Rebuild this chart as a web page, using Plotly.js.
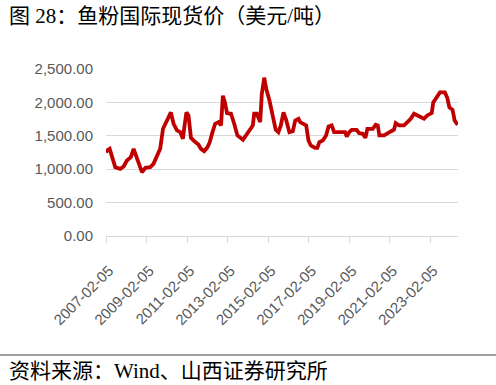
<!DOCTYPE html>
<html><head><meta charset="utf-8">
<script src="https://cdn.plot.ly/plotly-3.0.1.min.js"></script>
<style>html,body{margin:0;padding:0;background:#fff;}#chart{width:496px;height:385px;}</style>
</head><body><div id="chart"></div>
<script>
const titleText = "图 28：鱼粉国际现货价（美元/吨）";
const sourceText = "资料来源：Wind、山西证券研究所";
const dates = [
 "2007-02-05","2007-02-25","2007-04-12","2007-05-25","2007-07-22","2007-10-19","2007-12-20",
 "2008-02-17","2008-04-28","2008-06-16","2008-08-03","2008-09-27","2008-11-14",
 "2009-01-15","2009-04-12","2009-06-09","2009-08-10","2009-10-08","2009-11-28",
 "2010-01-26","2010-04-19","2010-06-06","2010-08-07","2010-10-05","2010-11-21","2010-12-17",
 "2011-01-23","2011-03-02","2011-04-15","2011-07-01","2011-08-28","2011-10-12","2011-12-09",
 "2012-01-30","2012-03-13","2012-05-07","2012-06-24","2012-08-25","2012-10-08","2012-11-10","2012-12-17",
 "2013-01-23","2013-04-05","2013-06-02","2013-07-30","2013-11-07",
 "2014-01-19","2014-03-17","2014-05-03","2014-05-28","2014-07-15","2014-09-13","2014-10-12","2014-11-25",
 "2015-01-01","2015-02-28","2015-04-29","2015-06-20","2015-08-07","2015-09-20","2015-11-07","2015-12-24",
 "2016-02-21","2016-04-22","2016-06-06","2016-08-03","2016-09-02","2016-10-30","2016-12-20",
 "2017-01-30","2017-03-13","2017-05-28","2017-07-08","2017-08-14","2017-10-15","2017-12-13",
 "2018-01-26","2018-03-24","2018-05-07","2018-08-21","2018-11-21","2018-12-20",
 "2019-02-03","2019-03-20","2019-06-16","2019-07-30","2019-10-05","2019-11-21","2019-12-27",
 "2020-04-01","2020-05-25","2020-07-01","2020-07-30","2020-10-23","2020-12-20",
 "2021-02-21","2021-04-19","2021-05-21","2021-07-22","2021-10-15","2021-12-17",
 "2022-02-14","2022-04-15","2022-06-13","2022-08-14","2022-10-12","2022-12-09",
 "2023-02-28","2023-03-27","2023-05-28","2023-07-26","2023-10-23","2023-12-06",
 "2024-01-12","2024-03-09","2024-04-15","2024-05-21","2024-06-10"
];
const prices = [
 1250,1280,1305,1205,1030,1005,1040,
 1130,1180,1305,1190,1055,955,
 1020,1030,1080,1180,1305,1605,
 1705,1850,1680,1580,1555,1455,1630,
 1850,1805,1470,1405,1370,1305,1270,
 1320,1390,1555,1680,1705,1655,2100,2000,
 1840,1830,1680,1505,1440,
 1520,1605,1655,1830,1830,1705,2125,2370,
 2200,2025,1805,1590,1555,1655,1850,1740,
 1555,1570,1730,1755,1705,1680,1655,
 1430,1355,1320,1320,1405,1430,1505,
 1640,1655,1555,1555,1555,1490,
 1555,1590,1590,1540,1530,1470,1605,
 1605,1665,1655,1505,1505,1540,
 1565,1590,1690,1655,1655,1705,
 1755,1830,1805,1780,1755,1805,
 1840,2000,2075,2150,2150,2065,
 1925,1890,1730,1690,1665
];
const xTicks = ["2007-02-05","2009-02-05","2011-02-05","2013-02-05","2015-02-05","2017-02-05","2019-02-05","2021-02-05","2023-02-05"];
const yTicks = [0,500,1000,1500,2000,2500];

const trace = {
  x: dates, y: prices, type: 'scatter', mode: 'lines',
  line: {color: '#c00000', width: 3.8, shape: 'linear'},
  hoverinfo: 'skip'
};
const layout = {
  width: 496, height: 385,
  margin: {l: 106, r: 38, t: 69, b: 149},
  paper_bgcolor: '#fff', plot_bgcolor: '#fff',
  showlegend: false,
  font: {family: 'Liberation Sans, Arial, sans-serif', size: 15, color: '#595959'},
  xaxis: {
    type: 'date', range: ['2007-02-05', '2024-06-15'],
    tickmode: 'array', tickvals: xTicks, ticktext: xTicks,
    tickangle: -45, ticks: 'outside', ticklen: 6, tickcolor: '#d9d9d9', tickwidth: 1,
    ticklabelstandoff: 13, ticklabelshift: 3,
    showgrid: false, showline: true, linecolor: '#d9d9d9', linewidth: 1, zeroline: false,
    tickfont: {size: 15, color: '#595959'}
  },
  yaxis: {
    range: [0, 2500], tickmode: 'array', tickvals: yTicks,
    tickformat: ',.2f', showgrid: true, gridcolor: '#d9d9d9', gridwidth: 1,
    zeroline: false, showline: false, ticks: '', ticklabelstandoff: 12,
    tickfont: {size: 15, color: '#595959'}
  },
  shapes: [
    {type: 'line', xref: 'paper', yref: 'paper', x0: -206/352, x1: 487/352, y0: -119/167, y1: -119/167,
     line: {color: '#404040', width: 1}}
  ],
  annotations: [
    {text: titleText, xref: 'paper', yref: 'paper', x: -99/352, y: 1 + 53/167, xanchor: 'left', yanchor: 'middle',
     showarrow: false, font: {family: 'Liberation Serif, Noto Sans CJK SC, serif', size: 21, color: '#000'}},
    {text: sourceText, xref: 'paper', yref: 'paper', x: -99/352, y: -135/167, xanchor: 'left', yanchor: 'middle',
     showarrow: false, font: {family: 'Liberation Serif, Noto Sans CJK SC, serif', size: 21, color: '#000'}}
  ]
};
Plotly.newPlot('chart', [trace], layout, {staticPlot: true, displayModeBar: false});
</script></body></html>
